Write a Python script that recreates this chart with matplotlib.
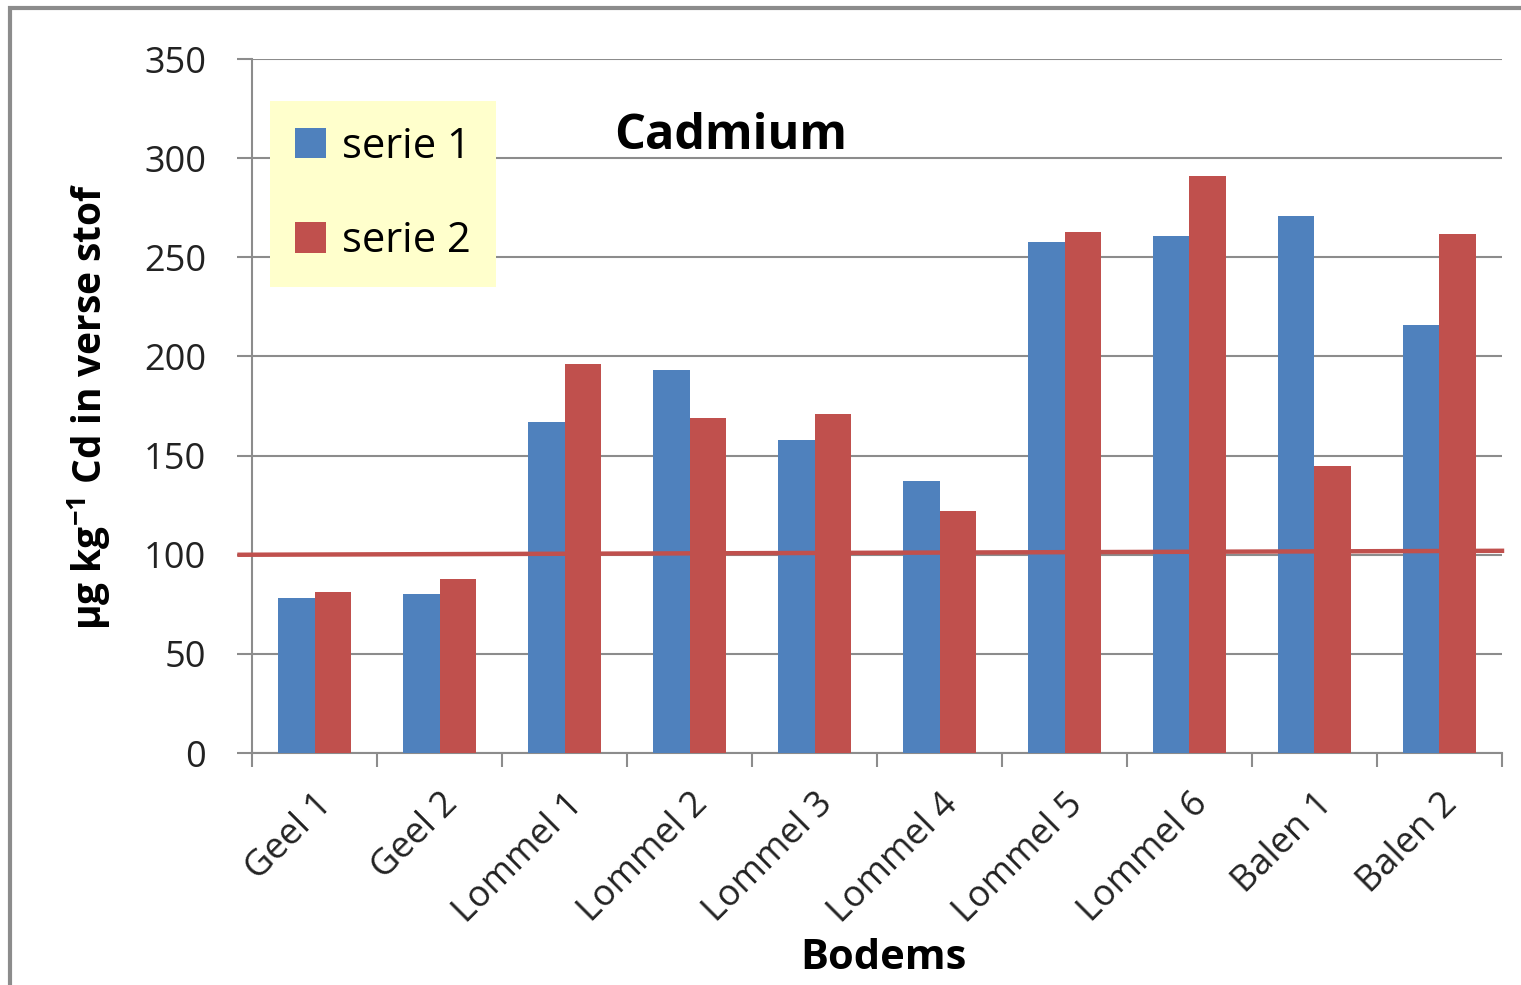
import numpy as np
import matplotlib.pyplot as plt
from matplotlib.patches import Rectangle

plt.rcParams['font.family'] = ['Open Sans', 'DejaVu Sans']

bodems = ['Geel 1', 'Geel 2', 'Lommel 1', 'Lommel 2', 'Lommel 3',
          'Lommel 4', 'Lommel 5', 'Lommel 6', 'Balen 1', 'Balen 2']
serie1 = [78, 80, 167, 193, 158, 137, 258, 261, 271, 216]
serie2 = [81, 88, 196, 169, 171, 122, 263, 291, 145, 262]
norm_x = [-0.6, 9.5]
norm_y = [100, 102]

blauw = '#4F81BD'
rood = '#C0504D'

fig = plt.figure(figsize=(15.21, 9.85), dpi=100)
ax = fig.add_axes([0.1657, 0.2355, 0.8218, 0.7045])

# kader rond de figuur
fig.patches.append(Rectangle((10/1521, -0.1), 1.2, 1 - 8/985 + 0.1,
                             transform=fig.transFigure, fill=False,
                             edgecolor='#8c8c8c', linewidth=3))

x = np.arange(len(bodems))
w = 0.29
ax.bar(x - w/2, serie1, w, color=blauw, label='serie 1', zorder=3)
ax.bar(x + w/2, serie2, w, color=rood, label='serie 2', zorder=3)
ax.plot(norm_x, norm_y, color=rood, lw=3.2, zorder=4, clip_on=False)

ax.set_xlim(-0.5, 9.5)
ax.set_ylim(0, 350)
ax.set_yticks(range(0, 351, 50))
ax.yaxis.grid(True, color='#8c8c8c', lw=1.5, zorder=0)
ax.set_axisbelow(True)

for s in ['top', 'right']:
    ax.spines[s].set_visible(False)
for s in ['left', 'bottom']:
    ax.spines[s].set_color('#8c8c8c')
    ax.spines[s].set_linewidth(1.5)

ax.set_xticks(x)
ax.set_xticklabels(bodems, rotation=45, ha='right', rotation_mode='anchor')
ax.set_xticks(np.arange(-0.5, 10, 1), minor=True)
ax.tick_params(axis='x', which='major', length=0, pad=24, labelsize=26,
               colors='#222222')
ax.tick_params(axis='x', which='minor', length=10, width=1.5, color='#8c8c8c')
ax.tick_params(axis='y', length=11, width=1.5, color='#8c8c8c', labelsize=26,
               labelcolor='#222222', pad=22)

ax.set_ylabel(r'µg kg$^{\mathregular{-1}}$ Cd in verse stof',
              fontsize=28, fontweight='bold', labelpad=22)
ax.set_xlabel('Bodems', fontsize=30, fontweight='bold', labelpad=6)
ax.xaxis.label.set_x(0.505)
ax.text(0.383, 0.888, 'Cadmium', transform=ax.transAxes, fontsize=35,
        fontweight='bold', ha='center', va='center')

leg = ax.legend(loc='upper left', bbox_to_anchor=(0.014, 0.94), fontsize=30,
                frameon=True, fancybox=False, handlelength=0.75,
                handleheight=0.75, handletextpad=0.4, labelspacing=1.25,
                borderpad=0.6, borderaxespad=0)
leg.get_frame().set_facecolor('#FFFFCC')
leg.get_frame().set_edgecolor('none')
leg.get_frame().set_alpha(1)

fig.savefig('out.png', dpi=100)
